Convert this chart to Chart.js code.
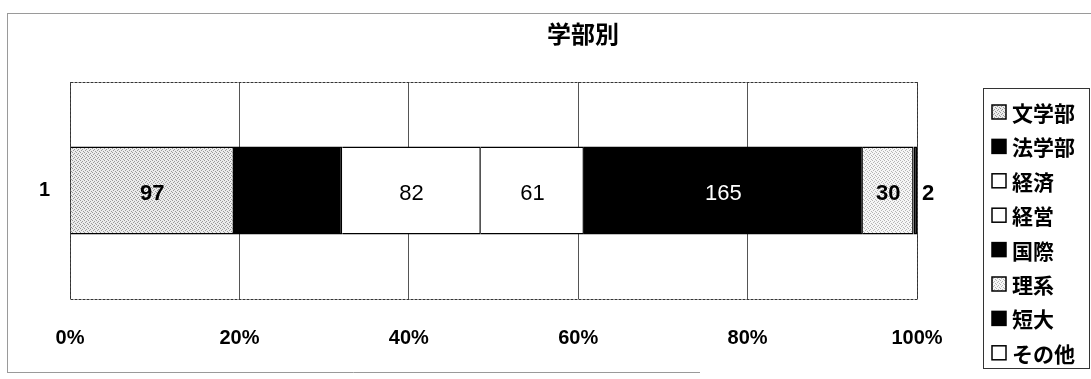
<!DOCTYPE html>
<html>
<head>
<meta charset="utf-8">
<script src="https://cdn.jsdelivr.net/npm/chart.js@4.4.1/dist/chart.umd.min.js"></script>
<style>
  html, body { margin: 0; padding: 0; background: #fff; }
  #wrap { width: 1091px; height: 379px; }
</style>
</head>
<body>
<div id="wrap"><canvas id="deptChart"></canvas></div>
<script>
// data
const categories = ['1'];
const departments = ['文学部', '法学部', '経済', '経営', '国際', '理系', '短大', 'その他'];
const counts = [97, 64, 82, 61, 165, 30, 2, 0];
const tickValues = [0, 20, 40, 60, 80, 100];
const chartTitle = '学部別';

// look of each segment
const fills = ['dots', '#000', '#fff', '#fff', '#000', 'dotsLight', '#000', '#fff'];
const labelColors = ['#000', '#000', '#000', '#000', '#fff', '#000', '#000', '#000'];
const labelBold = [true, true, false, false, false, true, true, true];

const numFont = '"Liberation Sans", Arial, sans-serif';
const jpFont = '"Noto Sans CJK JP", sans-serif';

function makeDots(bg, dot) {
    const c = document.createElement('canvas');
    c.width = 4; c.height = 4;
    const g = c.getContext('2d');
    g.fillStyle = bg;
    g.fillRect(0, 0, 4, 4);
    g.fillStyle = dot;
    g.fillRect(0, 0, 1, 1);
    g.fillRect(2, 1, 1, 1);
    g.fillRect(1, 2, 1, 1);
    g.fillRect(3, 3, 1, 1);
    return g.createPattern(c, 'repeat');
}

const ctx = document.getElementById('deptChart').getContext('2d');
const patterns = {
    dots: makeDots('#ececec', '#9a9a9a'),
    dotsLight: makeDots('#f6f6f6', '#b5b5b5')
};
const fillOf = f => patterns[f] || f;

const total = counts.reduce((a, b) => a + b, 0);

const datasets = departments.map((name, i) => ({
    label: name,
    data: [counts[i] / total * 100],
    rawValue: counts[i],
    backgroundColor: fillOf(fills[i]),
    borderColor: '#000',
    borderWidth: 1.5,
    categoryPercentage: 1,
    barPercentage: 0.405
}));

// frame, title, plot border and legend box
const decorations = {
    id: 'decorations',
    beforeDraw(chart) {
        const c = chart.ctx;
        c.save();
        c.fillStyle = '#fff';
        c.fillRect(0, 0, chart.width, chart.height);
        c.strokeStyle = '#9a9a9a';
        c.lineWidth = 1;
        c.beginPath();
        c.moveTo(7.5, 13); c.lineTo(7.5, 372);
        c.moveTo(7, 13.5); c.lineTo(1091, 13.5);
        c.moveTo(7, 372.5); c.lineTo(700, 372.5);
        c.stroke();
        c.restore();
    },
    afterDraw(chart) {
        const c = chart.ctx;
        const a = chart.chartArea;
        c.save();
        // title
        c.fillStyle = '#000';
        c.font = 'bold 24px ' + jpFont;
        c.textAlign = 'center';
        c.textBaseline = 'middle';
        c.fillText(chartTitle, 583, 34);

        // plot area frame
        c.strokeStyle = '#333';
        c.lineWidth = 1;
        c.setLineDash([3, 1]);
        c.strokeRect(a.left + 0.5, a.top + 0.5, a.right - a.left, a.bottom - a.top);
        c.setLineDash([]);

        // legend
        c.strokeStyle = '#333';
        c.strokeRect(983.5, 88.5, 106, 280);
        c.font = 'bold 21px ' + jpFont;
        c.textAlign = 'left';
        chart.data.datasets.forEach((ds, i) => {
            const y = 112 + i * 34.4;
            c.fillStyle = ds.backgroundColor;
            c.fillRect(992, y - 7, 14, 14);
            c.strokeStyle = '#000';
            c.lineWidth = 1.5;
            c.strokeRect(992, y - 7, 14, 14);
            c.fillStyle = '#000';
            c.fillText(ds.label, 1012, y + 1);
        });
        c.restore();
    },
    afterDatasetsDraw(chart) {
        const c = chart.ctx;
        c.save();
        c.textAlign = 'center';
        c.textBaseline = 'middle';
        chart.data.datasets.forEach((ds, i) => {
            if (!ds.rawValue) return;
            chart.getDatasetMeta(i).data.forEach(el => {
                const w = Math.abs(el.x - el.base);
                let x = (el.x + el.base) / 2;
                let color = labelColors[i];
                if (w < 15) { x = el.x + 11; color = '#000'; }
                c.fillStyle = color;
                c.font = (labelBold[i] ? 'bold ' : '') + '22px ' + numFont;
                c.fillText(String(ds.rawValue), x, el.y + 3);
            });
        });
        c.restore();
    }
};

new Chart(ctx, {
    type: 'bar',
    data: { labels: categories, datasets: datasets },
    options: {
        indexAxis: 'y',
        responsive: true,
        maintainAspectRatio: false,
        animation: false,
        layout: { padding: { left: 10, right: 174, top: 82, bottom: 20 } },
        plugins: {
            legend: { display: false },
            title: { display: false },
            tooltip: { enabled: false }
        },
        scales: {
            x: {
                stacked: true,
                min: 0,
                max: 100,
                afterFit: scale => { scale.height = 60; },
                afterBuildTicks: scale => { scale.ticks = tickValues.map(v => ({ value: v })); },
                ticks: {
                    color: '#000',
                    padding: 27,
                    font: { family: numFont, size: 20, weight: 'bold' },
                    callback: v => v + '%'
                },
                grid: { color: '#555', lineWidth: 1, drawTicks: false },
                border: { display: false }
            },
            y: {
                stacked: true,
                afterFit: scale => { scale.width = 60; },
                ticks: {
                    color: '#000',
                    padding: 20,
                    font: { family: numFont, size: 20, weight: 'bold' }
                },
                grid: { display: false, drawTicks: false },
                border: { display: false }
            }
        }
    },
    plugins: [decorations]
});
</script>
</body>
</html>
